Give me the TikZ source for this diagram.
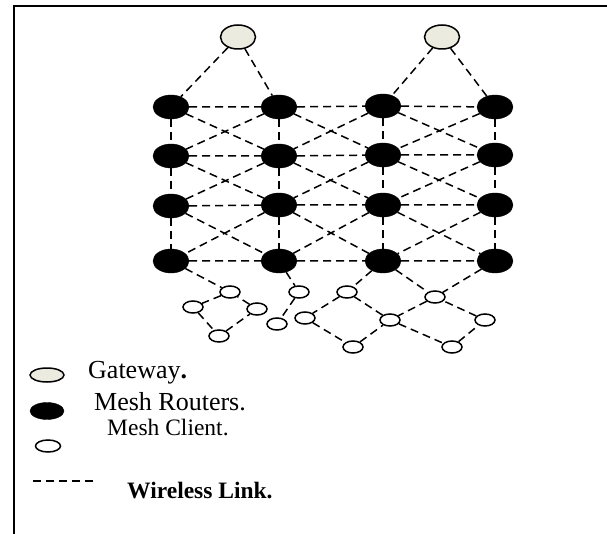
\documentclass[tikz,border=0pt]{standalone}
\usepackage{fontspec}
\setmainfont{Liberation Serif}
\usetikzlibrary{shapes.geometric}
\definecolor{gatewayfill}{HTML}{ECEBDF}
\tikzset{
  gateway/.style={shape=ellipse, draw, line width=1.5pt, fill=gatewayfill, minimum width=35pt, minimum height=24pt, inner sep=0pt},
  router/.style={shape=ellipse, draw, fill=black, minimum width=36pt, minimum height=24pt, inner sep=0pt},
  client/.style={shape=ellipse, draw, line width=1.5pt, fill=white, minimum width=20pt, minimum height=12pt, inner sep=0pt},
  link/.style={line width=1.5pt, dash pattern=on 8pt off 5pt},
  legendtext/.style={anchor=west, inner sep=0pt}
}
\begin{document}
\begin{tikzpicture}[x=1pt, y=-1pt]
            \useasboundingbox (0,0) rectangle (607,534);
            % Frame:
            \draw[line width=2pt] (14,534) -- (14,6) -- (607,6);
            % Gateways and mesh routers:
            \node[gateway] (g1) at (238,37){};
            \node[gateway] (g2) at (442,37){};
            \node[router] (r11) at (171,107){};
            \node[router] (r12) at (279,107){};
            \node[router] (r13) at (383,106){};
            \node[router] (r14) at (495,107){};
            \node[router] (r21) at (171,156){};
            \node[router] (r22) at (279,156){};
            \node[router] (r23) at (383,155){};
            \node[router] (r24) at (495,155){};
            \node[router] (r31) at (171,206){};
            \node[router] (r32) at (279,205){};
            \node[router] (r33) at (383,205){};
            \node[router] (r34) at (495,205){};
            \node[router] (r41) at (171,261){};
            \node[router] (r42) at (279,261){};
            \node[router] (r43) at (383,261){};
            \node[router] (r44) at (495,261){};
            % Mesh clients:
            \node[client] (ca) at (230,292){};
            \node[client] (cb) at (193,307){};
            \node[client] (cc) at (257,309){};
            \node[client] (cd) at (219,336){};
            \node[client] (ce) at (299,292){};
            \node[client] (cf) at (277,324){};
            \node[client] (cg) at (347,292){};
            \node[client] (ch) at (305,318){};
            \node[client] (ci) at (390,320){};
            \node[client] (cj) at (435,297){};
            \node[client] (ck) at (353,347){};
            \node[client] (cl) at (485,320){};
            \node[client] (cm) at (452,347){};
            % Wireless links:
            \draw[link] (g1) -- (r11) (g1) -- (r12) (g2) -- (r13) (g2) -- (r14);
            \draw[link] (r11) -- (r12) -- (r13) -- (r14) (r21) -- (r22) -- (r23) -- (r24);
            \draw[link] (r31) -- (r32) -- (r33) -- (r34) (r41) -- (r42) -- (r43) -- (r44);
            \draw[link] (r11) -- (r21) -- (r31) -- (r41) (r12) -- (r22) -- (r32) -- (r42);
            \draw[link] (r13) -- (r23) -- (r33) -- (r43) (r14) -- (r24) -- (r34) -- (r44);
            \draw[link] (r11) -- (r22) -- (r33) -- (r44) (r12) -- (r23) -- (r34) (r13) -- (r24) (r21) -- (r32) -- (r43) (r31) -- (r42);
            \draw[link] (r14) -- (r23) -- (r32) -- (r41) (r13) -- (r22) -- (r31) (r12) -- (r21) (r24) -- (r33) -- (r42) (r34) -- (r43);
            \draw[link] (r41) -- (ca) (ca) -- (cb) -- (cd) -- (cc) -- (ca) (r42) -- (ce) -- (cf);
            \draw[link] (r43) -- (cg) -- (ch) -- (ck) -- (ci) -- (cg) (r43) -- (cj) -- (ci) -- (cm) -- (cl) -- (cj) (r44) -- (cj);
            % Legend:
            \node[gateway, minimum width=34pt, minimum height=14pt] (lg) at (47,375){};
            \node[router, minimum width=34pt, minimum height=17pt] (lr) at (47,411){};
            \node[client, minimum width=25pt, minimum height=12pt] (lc) at (48,446){};
            \coordinate (ld1) at (33,481);
            \coordinate (ld2) at (93,481);
            \draw[link] (ld1) -- (ld2);
            \node[legendtext, font=\fontsize{26}{30}\selectfont] (tg) at (88,373){Gateway\textbf{.}};
            \node[legendtext, font=\fontsize{26}{30}\selectfont] (tr) at (94,402){Mesh Routers.};
            \node[legendtext, font=\fontsize{23.5}{28}\selectfont] (tc) at (107,428){Mesh Client.};
            \node[legendtext, font=\fontsize{23.5}{28}\selectfont\bfseries] (tw) at (127,491){Wireless Link.};
        \end{tikzpicture}
\end{document}
